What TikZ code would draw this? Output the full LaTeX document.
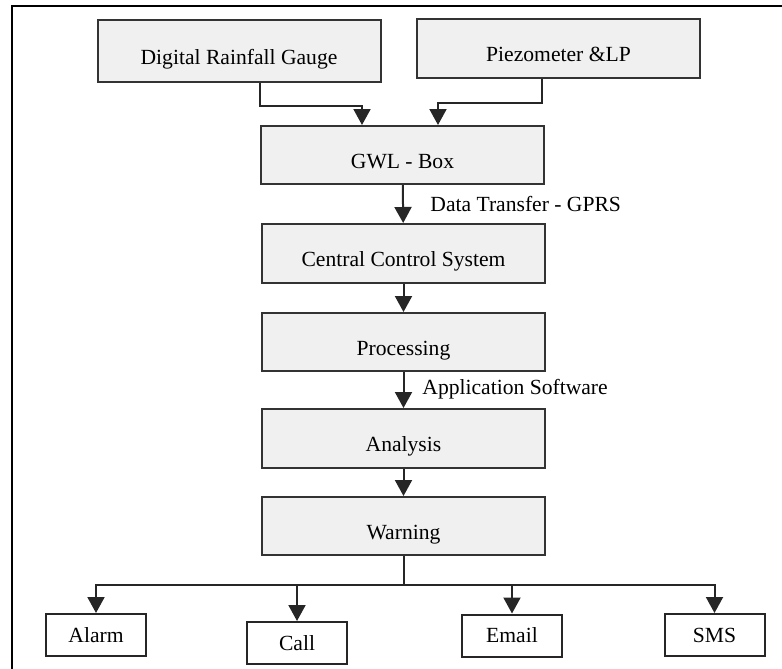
\documentclass[tikz,border=0pt]{standalone}
\usepackage{fontspec}
\setmainfont{Liberation Serif}
\usetikzlibrary{arrows.meta}

\begin{document}
\begin{tikzpicture}[x = 0.5pt, y = -0.5pt,
        stage/.style = {draw = black!80, fill = black!6, line width = 1pt, inner sep = 0pt,
            minimum width = 141.5pt, minimum height = 29.5pt, text height = 13pt, text depth = 0pt},
        outlet/.style = {draw = black!85, fill = white, line width = 1pt, inner sep = 0pt,
            minimum width = 50pt, minimum height = 21pt, text height = 7.2pt, text depth = 0pt},
        note/.style = {anchor = west, inner sep = 0pt, text height = 7.2pt, text depth = 0pt},
        flow/.style = {-{Triangle[width = 8.5pt, length = 8pt]}, draw = black!85, line width = 1pt}]
        \fontsize{10.8}{13}\selectfont
        \useasboundingbox (0, 0) rectangle (782, 669);

        % Frame
        \draw [line width = 1pt] (12, 669) -- (12, 6) -- (782, 6);

        % Nodes
        \node [stage, minimum height = 31pt] (rain) at (239, 51) {Digital Rainfall Gauge};
        \node [stage] (piezo) at (558.5, 48.5) {Piezometer \&LP};
        \node [stage, minimum height = 29pt] (gwl) at (402.5, 155) {GWL - Box};
        \node [stage] (ccs) at (403.5, 253.5) {Central Control System};
        \node [stage, minimum height = 29pt] (proc) at (403.5, 342) {Processing};
        \node [stage] (anal) at (403.5, 438.5) {Analysis};
        \node [stage, minimum height = 29pt] (warn) at (403.5, 526) {Warning};
        \node [outlet] (alarm) at (96, 635) {Alarm};
        \node [outlet] (call) at (297, 643) {Call};
        \node [outlet] (email) at (512, 635.5) {Email};
        \node [outlet] (sms) at (714.5, 635) {SMS};

        % Labels
        \node [note] (gprs) at (430, 204.5) {Data Transfer - GPRS};
        \node [note] (soft) at (422, 387.5) {Application Software};

        % Edges Direction
        \draw [flow] ([xshift = 10.5pt] rain.south) -- ++(0, 23) -| ([xshift = -20.25pt] gwl.north);
        \draw [flow] ([xshift = -8.25pt] piezo.south) -- ++(0, 24) -| ([xshift = 17.75pt] gwl.north);
        \draw [flow] (gwl) -- (ccs);
        \draw [flow] (ccs) -- (proc);
        \draw [flow] (proc) -- (anal);
        \draw [flow] (anal) -- (warn);
        \draw [draw = black!85, line width = 1pt] (warn.south) -- ++(0, 29) coordinate (bus);
        \draw [flow] (bus) -| (alarm.north);
        \draw [flow] (bus) -| (call.north);
        \draw [flow] (bus) -| (email.north);
        \draw [flow] (bus) -| (sms.north);

    \end{tikzpicture}
\end{document}
